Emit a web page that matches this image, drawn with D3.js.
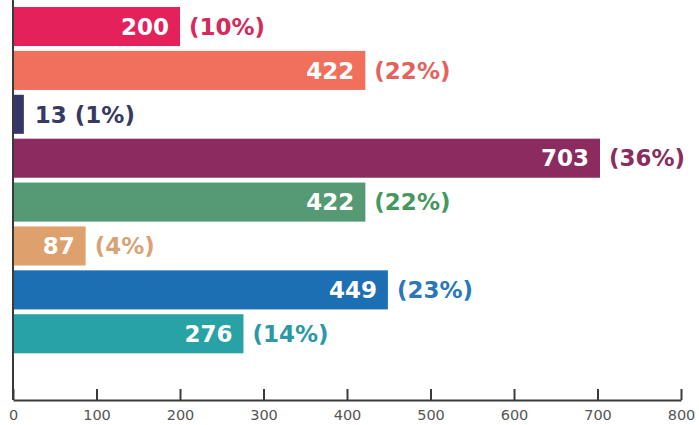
<!DOCTYPE html>
<html>
<head>
<meta charset="utf-8">
<script src="https://cdn.jsdelivr.net/npm/d3@7"></script>
<style>
  html, body { margin: 0; padding: 0; background: #ffffff; }
  svg { display: block; }
</style>
</head>
<body>
<svg id="chart" width="699" height="425"></svg>
<script>
const categories = ["Cat 1", "Cat 2", "Cat 3", "Cat 4", "Cat 5", "Cat 6", "Cat 7", "Cat 8"];
const values = [200, 422, 13, 703, 422, 87, 449, 276];
const percents = ["10%", "22%", "1%", "36%", "22%", "4%", "23%", "14%"];
const barColors = ["#e5215c", "#f0705c", "#363768", "#8b2b5f", "#559a74", "#dea06c", "#1d6fb4", "#29a2a6"];
const labelColors = ["#d42a5c", "#e2635c", "#363a62", "#8a2c5e", "#46985e", "#d9a276", "#2a78b9", "#2a98a6"];
const xTicks = [0, 100, 200, 300, 400, 500, 600, 700, 800];

const svg = d3.select("#chart");
const x = d3.scaleLinear().domain([0, 800]).range([13, 681]);
const y = d3.scaleBand().domain(categories).range([7, 353.3]).paddingInner(0.11).paddingOuter(0);

const data = categories.map((c, i) => ({ c, v: values[i], p: percents[i], col: barColors[i], lc: labelColors[i] }));
const font = "'DejaVu Sans', sans-serif";

svg.selectAll("rect.bar").data(data).enter().append("rect")
  .attr("class", "bar")
  .attr("x", x(0))
  .attr("y", d => y(d.c))
  .attr("width", d => x(d.v) - x(0))
  .attr("height", y.bandwidth())
  .attr("fill", d => d.col);

const inside = d => d.v >= 40;

svg.selectAll("text.val").data(data.filter(inside)).enter().append("text")
  .attr("class", "val")
  .attr("x", d => x(d.v) - 11)
  .attr("y", d => y(d.c) + y.bandwidth() / 2)
  .attr("dy", "0.36em")
  .attr("text-anchor", "end")
  .attr("fill", "#ffffff")
  .attr("font-family", font)
  .attr("font-size", 23)
  .attr("font-weight", "bold")
  .text(d => d.v);

svg.selectAll("text.pct").data(data).enter().append("text")
  .attr("class", "pct")
  .attr("x", d => x(d.v) + (inside(d) ? 9 : 11))
  .attr("y", d => y(d.c) + y.bandwidth() / 2)
  .attr("dy", "0.36em")
  .attr("text-anchor", "start")
  .attr("fill", d => d.lc)
  .attr("font-family", font)
  .attr("font-size", 23)
  .attr("font-weight", "bold")
  .text(d => inside(d) ? "(" + d.p + ")" : d.v + " (" + d.p + ")");

// vertical baseline
svg.append("line")
  .attr("x1", x(0)).attr("x2", x(0))
  .attr("y1", 0).attr("y2", 400)
  .attr("stroke", "#3a3a3a").attr("stroke-width", 2);

// x axis
const axis = d3.axisBottom(x).tickValues(xTicks).tickSize(0).tickPadding(0);
const gAxis = svg.append("g").attr("transform", "translate(0,400)").call(axis);
gAxis.select(".domain").attr("stroke", "#3a3a3a").attr("stroke-width", 2.2);
gAxis.selectAll(".tick line").remove();
gAxis.selectAll(".tick").append("line")
  .attr("y1", 0).attr("y2", -11)
  .attr("stroke", "#3a3a3a").attr("stroke-width", 2);
gAxis.selectAll(".tick text")
  .attr("y", 20)
  .attr("dy", null)
  .attr("fill", "#555555")
  .attr("font-family", font)
  .attr("font-size", 14.5);
</script>
</body>
</html>
